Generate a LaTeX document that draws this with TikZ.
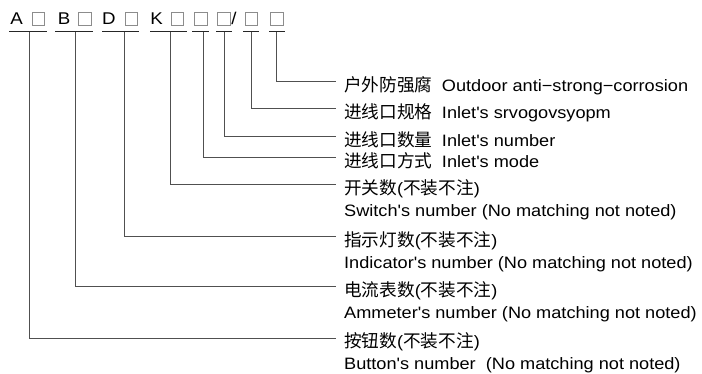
\documentclass[tikz,border=0pt]{standalone}
\usepackage{fontspec}
\setmainfont{Liberation Sans}[FakeStretch=1.1,Ligatures=TeXOff]
\newfontfamily\cjk{Noto Sans CJK SC}[Scale=1.07]
\usetikzlibrary{positioning}
\definecolor{ln}{RGB}{80,80,80}
\definecolor{bx}{RGB}{140,140,140}
\newcommand{\gap}{\hspace{9.5pt}}
\tikzset{
  code/.style={anchor=base, inner sep=0pt, font=\fontsize{17}{20}\selectfont},
  sq/.style={draw=bx, line width=0.8pt, minimum size=12.5pt, inner sep=0pt},
  bar/.style={draw=black!85, line width=1pt},
  wire/.style={draw=ln, line width=1pt},
  lbl/.style={anchor=west, inner xsep=8pt, inner ysep=0pt, text height=20.6pt,
    text depth=0.8pt, font=\fontsize{16.5}{20}\selectfont},
  sub/.style={below=0pt of #1.south west, anchor=north west}
}
\begin{document}
\begin{tikzpicture}[x=1pt, y=-1pt]
		\useasboundingbox (0,0) rectangle (702,374);
		% type code
		\node[code] (cA) at (16.5,25) {A};
		\node[sq] (bA) at (38.5,18.75) {};
		\node[code] (cB) at (64,25) {B};
		\node[sq] (bB) at (85,18.75) {};
		\node[code] (cD) at (109,25) {D};
		\node[sq] (bD) at (131.5,18.75) {};
		\node[code] (cK) at (156.5,25) {K};
		\node[sq] (bK) at (177.5,18.75) {};
		\node[sq] (bm) at (201,18.75) {};
		\node[sq] (bn) at (224,18.75) {};
		\node[code] (sl) at (234,25) {/};
		\node[sq] (bs) at (251.5,18.75) {};
		\node[sq] (bo) at (277,18.75) {};
		
		\draw[bar] (9,32) -- (47,32);
		\draw[bar] (55,32) -- (93,32);
		\draw[bar] (102,32) -- (139,32);
		\draw[bar] (150,32) -- (187,32);
		\draw[bar] (192,32) -- (209,32);
		\draw[bar] (216,32) -- (232,32);
		\draw[bar] (243,32) -- (259,32);
		\draw[bar] (269,32) -- (285,32);
		
		\coordinate (A) at (29,32);
		\coordinate (B) at (75,32);
		\coordinate (D) at (124,32);
		\coordinate (K) at (170,32);
		\coordinate (m) at (203,32);
		\coordinate (n) at (224,32);
		\coordinate (s) at (251,32);
		\coordinate (o) at (276,32);
		
		% meanings
		\node[lbl] (outdoor) at (336,82) {{\cjk 户外防强腐}\gap Outdoor anti−strong−corrosion};
		\node[lbl] (spec) at (336,109) {{\cjk 进线口规格}\gap Inlet's srvogovsyopm};
		\node[lbl] (num) at (336,137) {{\cjk 进线口数量}\gap Inlet's number};
		\node[lbl] (mode) at (336,158) {{\cjk 进线口方式}\gap Inlet's mode};
		\node[lbl] (switch) at (336,185) {{\cjk 开关数}({\cjk 不装不注})};
		\node[lbl, sub=switch] (switch2) {Switch's number (No matching not noted)};
		\node[lbl] (indicator) at (336,237) {{\cjk 指示灯数}({\cjk 不装不注})};
		\node[lbl, sub=indicator] (indicator2) {Indicator's number (No matching not noted)};
		\node[lbl] (ammeter) at (336,287) {{\cjk 电流表数}({\cjk 不装不注})};
		\node[lbl, sub=ammeter] (ammeter2) {Ammeter's number (No matching not noted)};
		\node[lbl] (button) at (336,338) {{\cjk 按钮数}({\cjk 不装不注})};
		\node[lbl, sub=button] (button2) {Button's number\ \ (No matching not noted)};
		
		\draw[wire] (o) |- (outdoor.west);
		\draw[wire] (s) |- (spec.west);
		\draw[wire] (n) |- (num.west);
		\draw[wire] (m) |- (mode.west);
		\draw[wire] (K) |- (switch.west);
		\draw[wire] (D) |- (indicator.west);
		\draw[wire] (B) |- (ammeter.west);
		\draw[wire] (A) |- (button.west);
\end{tikzpicture}
\end{document}
